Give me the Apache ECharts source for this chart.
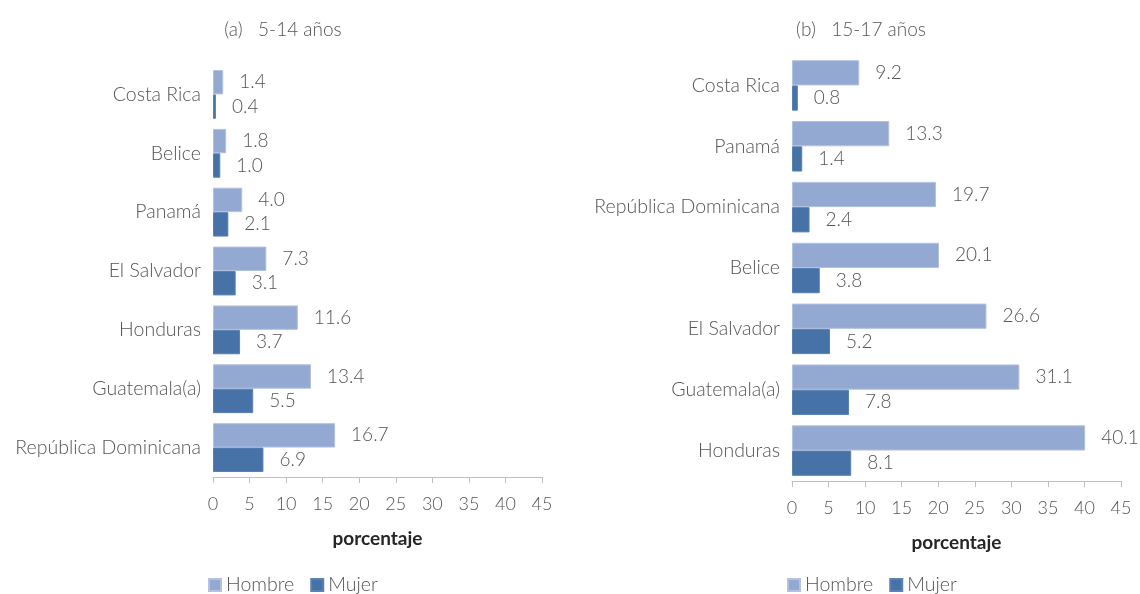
<!DOCTYPE html>
<html style="height: 100%">
<head>
    <meta charset="utf-8">
</head>
<body style="height: 100%; margin: 0; background: #fff">
<div id="main" style="width: 1140px; height: 594px"></div>
<script src="https://cdn.jsdelivr.net/npm/echarts@6/dist/echarts.min.js"></script>
<script type="text/javascript">
    // datos panel (a) 5-14 años
    var paisesA = ['Costa Rica', 'Belice', 'Panamá', 'El Salvador', 'Honduras', 'Guatemala(a)', 'República Dominicana'];
    var hombreA = [1.4, 1.8, 4.0, 7.3, 11.6, 13.4, 16.7];
    var mujerA = [0.4, 1.0, 2.1, 3.1, 3.7, 5.5, 6.9];
    // datos panel (b) 15-17 años
    var paisesB = ['Costa Rica', 'Panamá', 'República Dominicana', 'Belice', 'El Salvador', 'Guatemala(a)', 'Honduras'];
    var hombreB = [9.2, 13.3, 19.7, 20.1, 26.6, 31.1, 40.1];
    var mujerB = [0.8, 1.4, 2.4, 3.8, 5.2, 7.8, 8.1];
    var ticks = [0, 5, 10, 15, 20, 25, 30, 35, 40, 45];

    var gris = '#555555';
    var fuente = 'Lato';
    var peso = 300;
    var colHombre = '#94A9D1';
    var colMujer = '#4672A7';

    var myChart = echarts.init(document.getElementById('main'));

    function ejeX(idx) {
        return {
            gridIndex: idx,
            type: 'value',
            min: ticks[0],
            max: ticks[ticks.length - 1],
            interval: 5,
            name: 'porcentaje',
            nameLocation: 'middle',
            nameGap: 52,
            nameTextStyle: { color: '#262626', fontSize: 19, fontWeight: 'bold', fontFamily: fuente },
            axisLine: { show: true, lineStyle: { color: '#BFBFBF', width: 1 } },
            axisTick: { show: true, length: 6, lineStyle: { color: '#BFBFBF' } },
            axisLabel: { color: gris, fontSize: 18, fontWeight: peso, fontFamily: fuente, margin: 18 },
            splitLine: { show: false }
        };
    }

    function ejeY(idx, cats) {
        return {
            gridIndex: idx,
            type: 'category',
            inverse: true,
            data: cats,
            axisLine: { show: false },
            axisTick: { show: false },
            axisLabel: { color: gris, fontSize: 19.5, fontWeight: peso, fontFamily: fuente, margin: 12 }
        };
    }

    function serie(nombre, datos, idx, color) {
        return {
            name: nombre,
            type: 'bar',
            xAxisIndex: idx,
            yAxisIndex: idx,
            data: datos,
            barGap: '0%',
            barCategoryGap: '17%',
            itemStyle: { color: color, borderColor: nombre == 'Hombre' ? '#B3C2E0' : '#5A82B3', borderWidth: 1 },
            label: {
                show: true,
                position: 'right',
                distance: 16,
                color: gris,
                fontSize: 19,
                fontWeight: peso,
                fontFamily: fuente,
                formatter: function (p) { return p.value.toFixed(1); }
            }
        };
    }

    var leyenda = {
        data: ['Hombre', 'Mujer'],
        icon: 'rect',
        itemWidth: 12,
        itemHeight: 12,
        itemGap: 16,
        textStyle: { color: gris, fontSize: 19.5, fontWeight: peso, fontFamily: fuente }
    };

    var option = {
        animation: false,
        title: [
            { text: '(a)   5-14 años', left: 278, top: 15, textAlign: 'center',
              textStyle: { color: gris, fontSize: 19, fontWeight: peso, fontFamily: fuente } },
            { text: '(b)   15-17 años', left: 856, top: 15, textAlign: 'center',
              textStyle: { color: gris, fontSize: 19, fontWeight: peso, fontFamily: fuente } }
        ],
        legend: [
            Object.assign({ left: 203, top: 570 }, leyenda),
            Object.assign({ left: 782, top: 570 }, leyenda)
        ],
        grid: [
            { left: 213, right: 598, top: 65, height: 412 },
            { left: 792, right: 19, top: 55, height: 426 }
        ],
        xAxis: [ejeX(0), ejeX(1)],
        yAxis: [ejeY(0, paisesA), ejeY(1, paisesB)],
        series: [
            serie('Hombre', hombreA, 0, colHombre),
            serie('Mujer', mujerA, 0, colMujer),
            serie('Hombre', hombreB, 1, colHombre),
            serie('Mujer', mujerB, 1, colMujer)
        ]
    };

    myChart.setOption(option);
</script>
</body>
</html>
